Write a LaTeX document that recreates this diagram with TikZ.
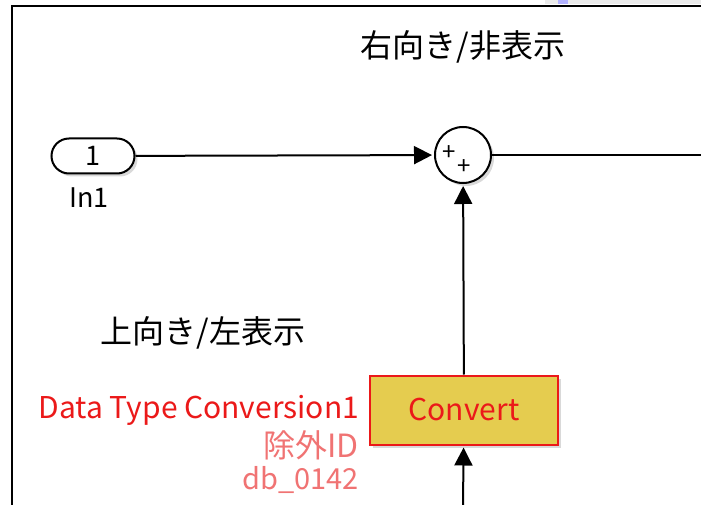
\documentclass[tikz,border=0pt]{standalone}
\usepackage{fontspec}
\setmainfont{Noto Sans CJK JP}
\usetikzlibrary{positioning, arrows.meta, shapes.misc, shadows}
\definecolor{slyel}{rgb}{0.90,0.80,0.31}
\definecolor{slred}{rgb}{0.92,0.10,0.10}
\definecolor{slpnk}{rgb}{0.94,0.45,0.45}

\begin{document}
\begin{tikzpicture}[x=1pt, y=-1pt, line width=2pt,
  sig/.style={-{Triangle[length=18pt,width=18pt]}, shorten >=2pt},
  shdw/.style={drop shadow={shadow xshift=3pt, shadow yshift=-3pt, opacity=0.3}},
  lbl/.style={font=\fontsize{27}{29}\selectfont, inner sep=0pt},
  jlbl/.style={font=\fontsize{32}{34}\selectfont, inner sep=0pt},
  plus/.style={font=\fontsize{24}{24}\selectfont, inner sep=0pt}]
\useasboundingbox (0,0) rectangle (701,505);
\fill[black!8] (545,0) rectangle (701,4);
\fill[blue!30] (558,0) rectangle (568,4);
\draw[line width=2.2pt] (12,505) |- (701,6);

\node[rounded rectangle, draw, fill=white, shdw, minimum width=83pt,
minimum height=35pt, inner sep=0pt, lbl] (in1) at (93,156) {1};
\node[lbl] (in1lbl) at (89,198) {In1};
\node[circle, draw, fill=white, shdw, minimum size=56pt, inner sep=0pt] (sum) at (463,155) {};
\node[plus] (plusa) at (449,153) {+};
\node[plus] (plusb) at (464,167) {+};
\node[draw=slred, fill=slyel, shdw, minimum width=188pt, minimum height=69pt,
text=slred, lbl, font=\fontsize{30}{32}\selectfont] (conv) at (464,410) {Convert};
\coordinate (out) at (701,155);
\coordinate (src) at (463,505);

\draw[sig] (in1) -- (sum);
\draw (sum) -- (out);
\draw[sig] (conv) -- (sum);
\draw[sig] (src) -- (conv);

\node[jlbl] (rtxt) at (463,47) {右向き/非表示};
\node[jlbl] (utxt) at (203,333) {上向き/左表示};
\node[lbl, text=slred, anchor=east, font=\fontsize{30}{32}\selectfont] (dtc) at (360,410) {Data Type Conversion1};
\node[jlbl, text=slpnk, anchor=east] (exid) at (360,445) {除外ID};
\node[lbl, text=slpnk, anchor=east, font=\fontsize{29}{31}\selectfont] (dbid) at (360,480) {db\_0142};
\end{tikzpicture}
\end{document}
